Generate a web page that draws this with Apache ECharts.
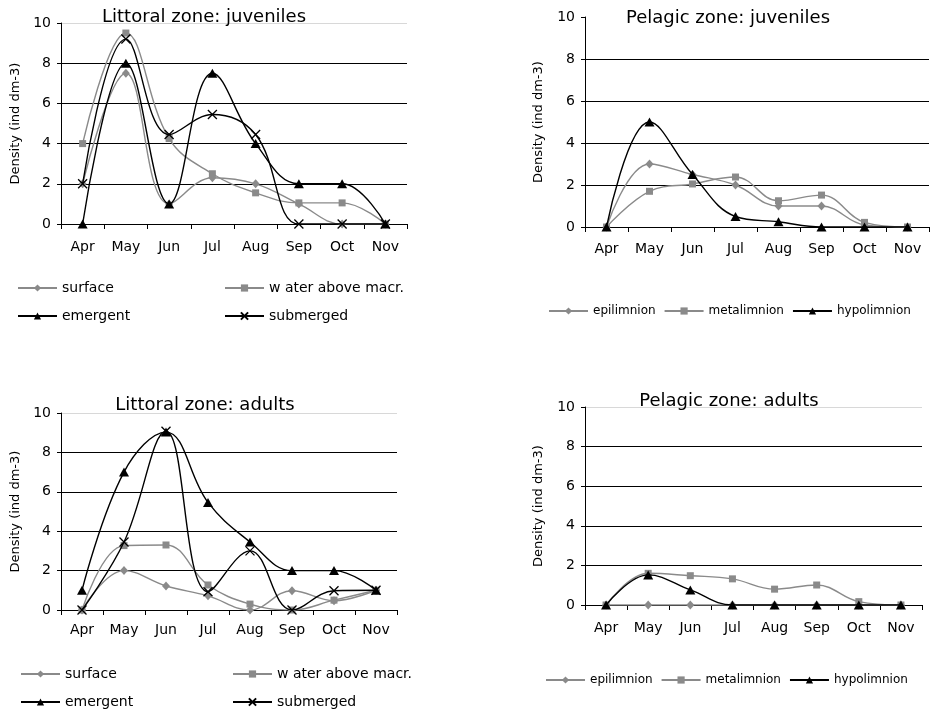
<!DOCTYPE html>
<html>
<head>
<meta charset="utf-8">
<script src="https://cdn.jsdelivr.net/npm/echarts@6/dist/echarts.min.js"></script>
<style>html,body{margin:0;padding:0;background:#fff}#c{width:930px;height:712px}</style>
</head>
<body>
<div id="c"></div>
<script>
const months = ['Apr','May','Jun','Jul','Aug','Sep','Oct','Nov'];
const yAxisName = 'Density (ind dm-3)';
const titles = ['Littoral zone: juveniles','Pelagic zone: juveniles','Littoral zone: adults','Pelagic zone: adults'];
const littoralNames = ['surface','w ater above macr.','emergent','submerged'];
const pelagicNames = ['epilimnion','metalimnion','hypolimnion'];

const litJuvSurface   = [2, 7.5, 1, 2.3, 2, 1, 0, 0];
const litJuvWater     = [4, 9.5, 4.25, 2.5, 1.55, 1.05, 1.05, 0];
const litJuvEmergent  = [0, 8, 1, 7.5, 4, 2, 2, 0];
const litJuvSubmerged = [2, 9.2, 4.45, 5.45, 4.45, 0, 0, 0];

const pelJuvEpi  = [0, 3, 2.5, 2, 1, 1, 0.1, 0];
const pelJuvMeta = [0, 1.7, 2.05, 2.38, 1.25, 1.52, 0.22, 0];
const pelJuvHypo = [0, 5, 2.5, 0.5, 0.25, 0, 0, 0];

const litAdSurface   = [0, 2, 1.22, 0.72, 0, 0.98, 0.47, 1];
const litAdWater     = [0, 3.27, 3.3, 1.27, 0.3, 0, 0.5, 1];
const litAdEmergent  = [1, 7, 9.03, 5.46, 3.45, 2, 2, 1];
const litAdSubmerged = [0, 3.45, 9.07, 0.93, 3, 0, 0.98, 1];

const pelAdEpi  = [0, 0, 0, 0, 0, 0, 0, 0];
const pelAdMeta = [0, 1.6, 1.48, 1.32, 0.8, 1.01, 0.17, 0];
const pelAdHypo = [0, 1.52, 0.76, 0, 0, 0, 0, 0];

const FONT = 'DejaVu Sans';
const GRAY = '#8a8a8a';
const CROSS = 'path://M0,0L10,10M10,0L0,10';

const styles = {
  diamond: {symbol:'diamond', symbolSize:[8,9], color:GRAY},
  square: {symbol:'rect', symbolSize:7, color:GRAY},
  triangle: {symbol:'triangle', symbolSize:[10,9], color:'#000'},
  cross: {symbol:CROSS, symbolSize:9, color:'#000', cross:true}
};

function mkSeries(name, data, st, idx) {
  return {
    name: name, type: 'line', data: data,
    xAxisIndex: idx, yAxisIndex: idx,
    smooth: 0.4, showAllSymbol: true,
    symbol: st.symbol, symbolSize: st.symbolSize,
    lineStyle: {color: st.color, width: 1.4},
    itemStyle: st.cross ? {color: 'rgba(0,0,0,0)', borderColor: '#000', borderWidth: 1.3}
                        : {color: st.color, borderWidth: 0},
    emphasis: {disabled: true},
    z: st.color === '#000' ? 3 : 2
  };
}

const grids = [
  {left:61, top:23, width:346, height:201},
  {left:585, top:17, width:344, height:210},
  {left:61, top:413, width:336, height:197},
  {left:585, top:407, width:337, height:198}
];
const topLineColors = ['#d8d8d8', '#ffffff', '#d8d8d8', '#d8d8d8'];
const labelMargins = [16, 15, 13, 16];

const xAxes = grids.map((g, i) => ({
  type: 'category', data: months, gridIndex: i, boundaryGap: true,
  axisLine: {lineStyle: {color: '#000', width: 1}},
  axisTick: {show: true, length: 5, lineStyle: {color: '#000'}},
  axisLabel: {color: '#000', fontFamily: FONT, fontSize: 14, margin: labelMargins[i]}
}));
const yAxes = grids.map((g, i) => ({
  type: 'value', gridIndex: i, min: 0, max: 10, interval: 2,
  name: yAxisName, nameLocation: 'middle', nameRotate: 90, nameGap: i % 2 ? 40 : 39,
  nameTextStyle: {color: '#000', fontFamily: FONT, fontSize: 13},
  axisLine: {show: true, lineStyle: {color: '#000', width: 1}},
  axisTick: {show: true, length: 4, lineStyle: {color: '#000'}},
  axisLabel: {color: '#000', fontFamily: FONT, fontSize: 14, margin: 10},
  splitLine: {show: true, lineStyle: {color: ['#000','#000','#000','#000','#000', topLineColors[i]], width: 1}}
}));

const series = [
  mkSeries(littoralNames[0], litJuvSurface, styles.diamond, 0),
  mkSeries(littoralNames[1], litJuvWater, styles.square, 0),
  mkSeries(littoralNames[2], litJuvEmergent, styles.triangle, 0),
  mkSeries(littoralNames[3], litJuvSubmerged, styles.cross, 0),
  mkSeries(pelagicNames[0], pelJuvEpi, styles.diamond, 1),
  mkSeries(pelagicNames[1], pelJuvMeta, styles.square, 1),
  mkSeries(pelagicNames[2], pelJuvHypo, styles.triangle, 1),
  mkSeries(littoralNames[0], litAdSurface, styles.diamond, 2),
  mkSeries(littoralNames[1], litAdWater, styles.square, 2),
  mkSeries(littoralNames[2], litAdEmergent, styles.triangle, 2),
  mkSeries(littoralNames[3], litAdSubmerged, styles.cross, 2),
  mkSeries(pelagicNames[0], pelAdEpi, styles.diamond, 3),
  mkSeries(pelagicNames[1], pelAdMeta, styles.square, 3),
  mkSeries(pelagicNames[2], pelAdHypo, styles.triangle, 3)
];

function legend(names, left, centerY, size, gap) {
  return {
    data: names, left: left, top: centerY - 8, orient: 'horizontal',
    itemWidth: 39, itemHeight: 9, itemGap: gap || 10, selectedMode: false,
    textStyle: {color: '#000', fontFamily: FONT, fontSize: size}, padding: 0
  };
}

const legends = [
  legend([littoralNames[0]], 17, 289, 14),
  legend([littoralNames[1]], 224, 289, 14),
  legend([littoralNames[2]], 17, 317, 14),
  legend([littoralNames[3]], 224, 317, 14),
  legend(pelagicNames, 548, 313, 12, 8),
  legend([littoralNames[0]], 20, 675, 14),
  legend([littoralNames[1]], 232, 675, 14),
  legend([littoralNames[2]], 20, 703, 14),
  legend([littoralNames[3]], 232, 703, 14),
  legend(pelagicNames, 545, 682, 12, 8)
];

const titleDefs = [
  {x: 204, y: 8}, {x: 728, y: 9}, {x: 205, y: 396}, {x: 729, y: 392}
];
const titleOpts = titles.map((t, i) => ({
  text: t, left: titleDefs[i].x, top: titleDefs[i].y, textAlign: 'center', padding: 0,
  textStyle: {color: '#000', fontFamily: FONT, fontSize: 18, fontWeight: 'normal'}
}));

const chart = echarts.init(document.getElementById('c'));
chart.setOption({
  animation: false,
  backgroundColor: '#fff',
  title: titleOpts,
  grid: grids,
  xAxis: xAxes,
  yAxis: yAxes,
  legend: legends,
  series: series
});
</script>
</body>
</html>
